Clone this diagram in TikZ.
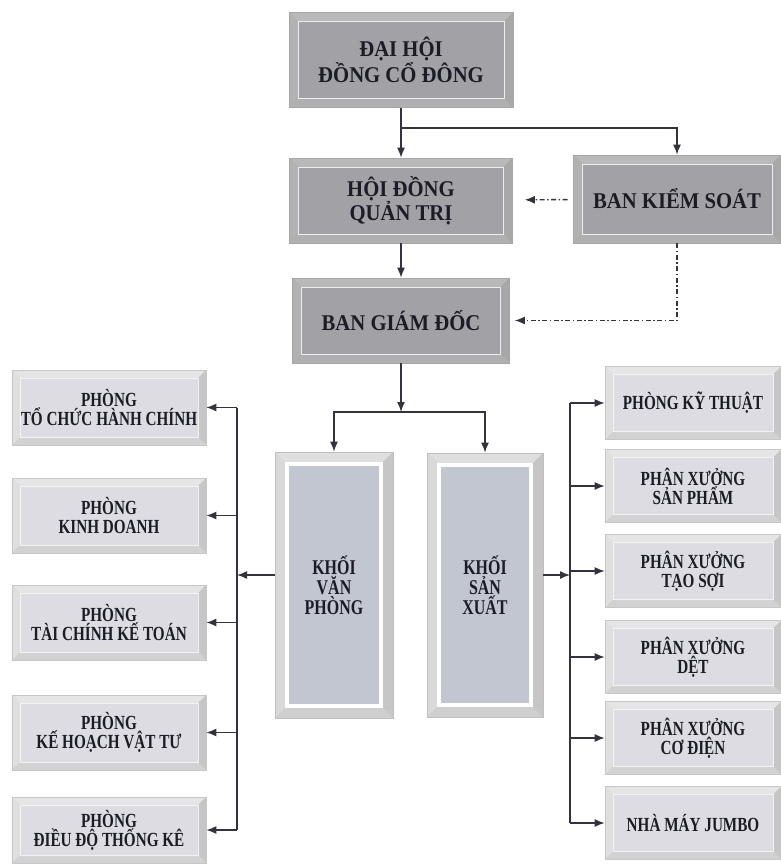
\documentclass[tikz,border=0pt]{standalone}
\usepackage{fontspec}
\setmainfont{Liberation Serif}
\newfontfamily\condfont[FakeStretch=0.76]{Liberation Serif}
\newfontfamily\headfont[FakeStretch=0.92]{Liberation Serif}
\usetikzlibrary{arrows.meta}
\definecolor{linec}{HTML}{33333F}
\definecolor{txt}{HTML}{1C1C26}
\definecolor{darkface}{HTML}{A2A2A6}
\definecolor{lightface}{HTML}{DCDCE2}
\definecolor{unitface}{HTML}{C2C6D0}
% bevel: width, top, left, right, bottom, inner edge style
\newcommand\bevelpic[6]{%
  \coordinate (bnw) at (path picture bounding box.north west);
  \coordinate (bne) at (path picture bounding box.north east);
  \coordinate (bsw) at (path picture bounding box.south west);
  \coordinate (bse) at (path picture bounding box.south east);
  \fill[#2] (bnw) -- (bne) -- ([shift={(-#1,-#1)}]bne) -- ([shift={(#1,-#1)}]bnw) -- cycle;
  \fill[#3] (bnw) -- (bsw) -- ([shift={(#1,#1)}]bsw) -- ([shift={(#1,-#1)}]bnw) -- cycle;
  \fill[#4] (bne) -- (bse) -- ([shift={(-#1,#1)}]bse) -- ([shift={(-#1,-#1)}]bne) -- cycle;
  \fill[#5] (bsw) -- (bse) -- ([shift={(-#1,#1)}]bse) -- ([shift={(#1,#1)}]bsw) -- cycle;
  \draw[#6] ([shift={(-#1,-#1)}]bne) -- ([shift={(#1,-#1)}]bnw) -- ([shift={(#1,#1)}]bsw)
    -- ([shift={(-#1,#1)}]bse) -- cycle;
}
\tikzset{
  >={Latex[length=10pt,width=8pt]},
  conn/.style={draw=linec, line width=1.4pt},
  dashdot/.style={conn, dash pattern=on 5pt off 2.5pt on 1.5pt off 2.5pt},
  topbox/.style={fill=darkface, draw=gray!70, line width=0.6pt, align=center, inner sep=0pt,
    text=txt, font=\headfont\fontsize{22.5}{23}\selectfont\bfseries,
    path picture={\bevelpic{9pt}{gray!55}{gray!60}{gray!68}{gray!62}{white!85!gray, line width=1pt}}},
  deptbox/.style={fill=lightface, draw=gray!45, line width=0.6pt, align=center, inner sep=0pt,
    text=txt, font=\condfont\fontsize{20}{19}\selectfont\bfseries,
    minimum width=194pt, minimum height=75pt,
    path picture={\bevelpic{8pt}{gray!20}{gray!25}{gray!45}{gray!35}{white!90!gray, line width=0.8pt}}},
  unitbox/.style={fill=unitface, draw=gray!50, line width=0.6pt, align=center, inner sep=0pt,
    text=txt, font=\condfont\fontsize{21}{20}\selectfont\bfseries,
    path picture={\bevelpic{12pt}{gray!25}{gray!30}{gray!45}{gray!38}{white, line width=3.5pt}}},
}
\begin{document}
\begin{tikzpicture}[x=1pt,y=-1pt]
  \useasboundingbox (0,0) rectangle (781,864);
  % top of the chart
  \node[topbox, minimum width=224pt, minimum height=95pt] (dhcd) at (401,60) {ĐẠI HỘI\\ĐỒNG CỔ ĐÔNG};
  \node[topbox, minimum width=223pt, minimum height=85pt] (hdqt) at (401,200.5) {HỘI ĐỒNG\\QUẢN TRỊ};
  \node[topbox, minimum width=208pt, minimum height=88pt] (bks) at (677,199) {BAN KIỂM SOÁT};
  \node[topbox, minimum width=217pt, minimum height=85pt] (bgd) at (401,320.5) {BAN GIÁM ĐỐC};
  % the two blocks
  \node[unitbox, minimum width=118pt, minimum height=266pt] (kvp) at (334,585) {KHỐI\\VĂN\\PHÒNG};
  \node[unitbox, minimum width=116pt, minimum height=264pt] (ksx) at (485,585) {KHỐI\\SẢN\\XUẤT};
  % office departments
  \node[deptbox] (l1) at (109,407.5) {PHÒNG\\TỔ CHỨC HÀNH CHÍNH};
  \node[deptbox] (l2) at (109,515.5) {PHÒNG\\KINH DOANH};
  \node[deptbox] (l3) at (109,622.5) {PHÒNG\\TÀI CHÍNH KẾ TOÁN};
  \node[deptbox] (l4) at (109,732.5) {PHÒNG\\KẾ HOẠCH VẬT TƯ};
  \node[deptbox, minimum height=66pt] (l5) at (109,830) {PHÒNG\\ĐIỀU ĐỘ THỐNG KÊ};
  % production units
  \node[deptbox, minimum width=176pt, minimum height=73pt] (r1) at (693,403) {PHÒNG KỸ THUẬT};
  \node[deptbox, minimum width=176pt, minimum height=73pt] (r2) at (693,486) {PHÂN XƯỞNG\\SẢN PHẨM};
  \node[deptbox, minimum width=176pt, minimum height=73pt] (r3) at (693,571) {PHÂN XƯỞNG\\TẠO SỢI};
  \node[deptbox, minimum width=176pt, minimum height=73pt] (r4) at (693,657) {PHÂN XƯỞNG\\DỆT};
  \node[deptbox, minimum width=176pt, minimum height=73pt] (r5) at (693,738) {PHÂN XƯỞNG\\CƠ ĐIỆN};
  \node[deptbox, minimum width=176pt, minimum height=73pt] (r6) at (693,823) {NHÀ MÁY JUMBO};
  % connectors
  \coordinate (split) at (401,128);
  \coordinate (fork) at (401,412);
  \coordinate (lbus) at (237,575);
  \coordinate (rbus) at (570,575);
  \draw[conn,->] (dhcd) -- (hdqt);
  \draw[conn,->] (split) -| (bks);
  \draw[conn,->] (hdqt) -- (bgd);
  \draw[dashdot,->,shorten <=5pt,shorten >=12pt] (bks) -- (hdqt);
  \draw[dashdot,->,shorten >=5pt] (bks) |- (bgd);
  \draw[conn,->] (bgd) -- (fork);
  \draw[conn,->] (fork) -| (kvp);
  \draw[conn,->] (fork) -| (ksx);
  \draw[conn,->] (kvp.west |- lbus) -- (lbus);
  \draw[conn] (lbus |- l1.east) -- (lbus |- l5.east);
  \foreach \d in {l1,l2,l3,l4,l5}
    \draw[conn,->] (lbus |- \d.east) -- (\d.east);
  \draw[conn,->] (ksx.east |- rbus) -- (rbus);
  \draw[conn] (rbus |- r1.west) -- (rbus |- r6.west);
  \foreach \d in {r1,r2,r3,r4,r5,r6}
    \draw[conn,->] (rbus |- \d.west) -- (\d.west);
\end{tikzpicture}
\end{document}
